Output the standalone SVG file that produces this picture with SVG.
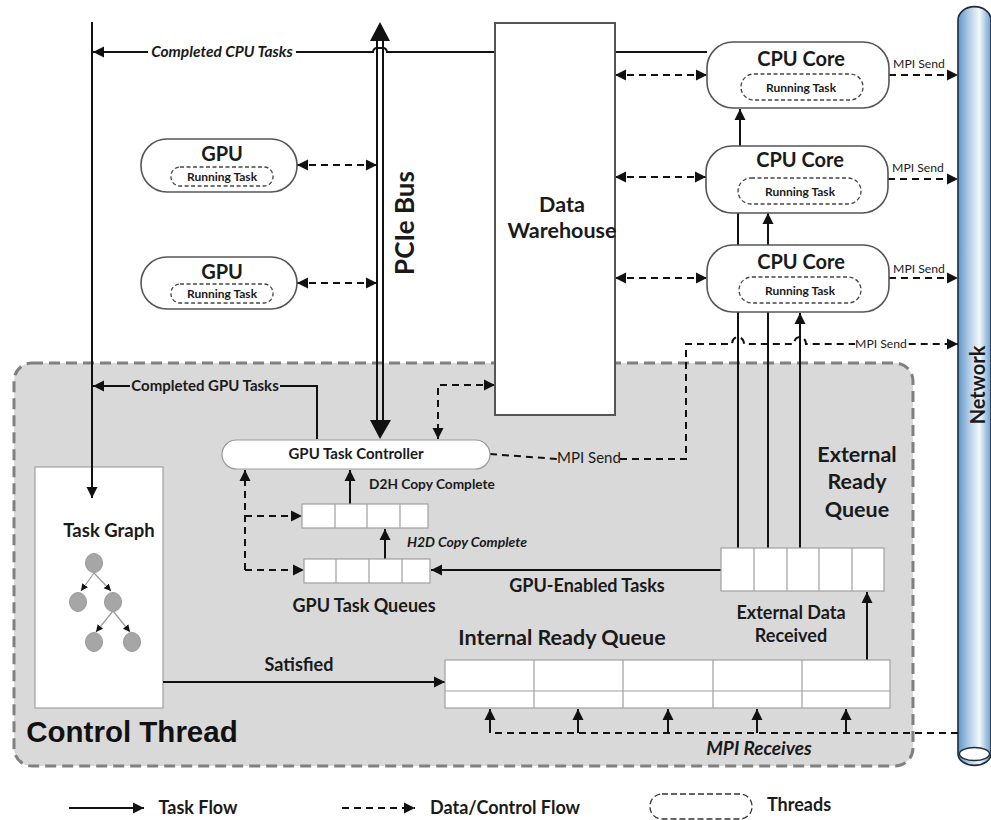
<svg xmlns="http://www.w3.org/2000/svg" width="991" height="820" viewBox="0 0 991 820">
<style>
text{font-family:Lato,"Liberation Sans",sans-serif;font-weight:700;fill:#1a1a1a;text-anchor:middle}
.l{stroke:#111;stroke-width:2;fill:none}
.d{stroke:#111;stroke-width:2;fill:none;stroke-dasharray:7 5}
.a{marker-end:url(#h)}
.b{marker-start:url(#hs);marker-end:url(#h)}
.box{fill:#fff;stroke:#555;stroke-width:1.6}
.rt{fill:none;stroke:#444;stroke-width:1.3;stroke-dasharray:4 2.5}
.q{fill:#fff;stroke:#a0a0a0;stroke-width:1.2}
.ql{stroke:#a0a0a0;stroke-width:1.2;fill:none}
.n{fill:#a6a6a6;stroke:#999;stroke-width:1}
.e{stroke:#999;stroke-width:1.2;fill:none;marker-end:url(#sm)}
.t1{font-size:20px}.t2{font-size:12px}.t4{font-size:12.2px;font-weight:400}
.t5{font-size:21.5px}.t6{font-size:18px}
.it{font-style:italic}
</style>
<defs>
<marker id="h" markerUnits="userSpaceOnUse" markerWidth="12" markerHeight="12" refX="11" refY="6" orient="auto"><path d="M0,0.5L11,6L0,11.5z" fill="#111"/></marker>
<marker id="hs" markerUnits="userSpaceOnUse" markerWidth="12" markerHeight="12" refX="1" refY="6" orient="auto"><path d="M12,0.5L1,6L12,11.5z" fill="#111"/></marker>
<marker id="sm" markerUnits="userSpaceOnUse" markerWidth="8" markerHeight="8" refX="7" refY="4" orient="auto"><path d="M0,0.5L7,4L0,7.5z" fill="#111"/></marker>
<linearGradient id="net" x1="0" x2="1" y1="0" y2="0"><stop offset="0" stop-color="#5f95c8"/><stop offset=".3" stop-color="#a9c8e4"/><stop offset=".65" stop-color="#f4f8fb"/><stop offset="1" stop-color="#6e9fcd"/></linearGradient>
</defs>

<g id="control-thread"><rect x="14" y="363" width="899" height="403" rx="18" fill="#d9d9d9" stroke="#808080" stroke-width="3" stroke-dasharray="11 6"/><text x="132" y="742" style="font-family:'Liberation Sans',sans-serif;font-size:29.500px;fill:#111">Control Thread</text></g>

<g id="network"><path d="M958,20a16,13 0 0 1 33,0V754a16,11 0 0 1 -33,0z" fill="url(#net)" stroke="#1d2b3a" stroke-width="1.600"/><ellipse cx="974.500" cy="754" rx="15" ry="6.500" fill="#fff" stroke="#1d2b3a" stroke-width="1.400"/><text transform="translate(985,385) rotate(-90)" style="font-size:20px">Network</text></g>

<g id="task-graph"><rect x="35" y="467" width="128" height="241" fill="#fff" stroke="#a0a0a0" stroke-width="1.200"/><text x="109" y="537" style="font-size:18.500px">Task Graph</text>
<path class="e" d="M94,573L81,591"/><path class="e" d="M94,573L111,591"/><path class="e" d="M113,611L96,632"/><path class="e" d="M113,611L130,632"/>
<ellipse class="n" cx="94" cy="563" rx="8.500" ry="9.500"/><ellipse class="n" cx="78" cy="602" rx="8.500" ry="9.500"/><ellipse class="n" cx="113" cy="602" rx="8.500" ry="9.500"/><ellipse class="n" cx="94" cy="642" rx="8.500" ry="9.500"/><ellipse class="n" cx="132" cy="642" rx="8.500" ry="9.500"/></g>

<g id="connectors">
<path class="l a" d="M92,22V498"/>
<path class="l a" d="M707,52H387a4,5 0 0 0 -4,-4h-6a4,5 0 0 0 -4,4H93"/>
<path d="M377,38V425M383,38V425" stroke="#111" stroke-width="2" fill="none"/>
<path d="M380,22L370,41H390zM370,420H391L380,439z" fill="#111"/>
<path class="d b" d="M297,165H377"/><path class="d b" d="M297,283H377"/>
<path class="d b" d="M615,75H707"/><path class="d b" d="M615,177H706"/><path class="d b" d="M615,278H707"/>
<path class="d a" d="M889,75H958"/><path class="d a" d="M888,179H958"/><path class="d a" d="M889,278H958"/>
<path class="d a" d="M490,454L558,459M620,459H686V344H732a6,7 0 0 1 12,0H794a6,7 0 0 1 12,0H958"/>
<path class="l a" d="M740,146V109"/>
<path class="l" d="M738,548V213"/><path class="l a" d="M768,548V213"/>
<path class="l a" d="M800,548V313"/>
<path class="l a" d="M317,439V386H93"/>
<path class="d b" d="M495,385H438V439"/>
<path class="l a" d="M350,504V470"/><path class="l a" d="M385,559V529"/>
<path class="d a" d="M245,570V470"/><path class="d a" d="M245,516H302"/><path class="d a" d="M245,570H304"/>
<path class="l a" d="M722,570H431"/>
<path class="l a" d="M867,660V592"/>
<path class="l a" d="M163,682H445"/>
<path class="d" d="M958,733H490"/>
<path class="l a" d="M490,733V709"/><path class="l a" d="M578,733V709"/><path class="l a" d="M668,733V709"/><path class="l a" d="M757,733V709"/><path class="l a" d="M846,733V709"/>
<path class="l a" d="M69,808H144"/><path class="d a" d="M342,808H415"/>
</g>

<g id="data-warehouse"><rect x="495" y="23" width="120" height="392" class="box" style="stroke-width:2"/><text class="t5" x="562" y="212">Data</text><text class="t5" x="562" y="238">Warehouse</text></g>

<g id="gpu1"><rect x="141" y="139" width="156" height="53" rx="26" class="box"/><text class="t1" x="222" y="161">GPU</text><rect x="171" y="167" width="102" height="19" rx="9" class="rt"/><text class="t2" x="222" y="181">Running Task</text></g>
<g id="gpu2"><rect x="141" y="257" width="156" height="52" rx="26" class="box"/><text class="t1" x="222" y="279">GPU</text><rect x="171" y="284" width="102" height="19" rx="9" class="rt"/><text class="t2" x="222" y="298">Running Task</text></g>

<g id="cpu1"><rect x="707" y="42" width="182" height="66" rx="26" class="box"/><text class="t1" x="801" y="66">CPU Core</text><rect x="741" y="74" width="122" height="26" rx="13" class="rt"/><text class="t2" x="801" y="92">Running Task</text></g>
<g id="cpu2"><rect x="706" y="146" width="182" height="67" rx="26" class="box"/><text class="t1" x="800" y="167">CPU Core</text><rect x="738" y="178" width="123" height="26" rx="13" class="rt"/><text class="t2" x="800" y="196">Running Task</text></g>
<g id="cpu3"><rect x="707" y="245" width="182" height="67" rx="26" class="box"/><text class="t1" x="801" y="269">CPU Core</text><rect x="739" y="277" width="122" height="26" rx="13" class="rt"/><text class="t2" x="800" y="295">Running Task</text></g>

<g id="gpu-task-controller"><rect x="222" y="440" width="268" height="29" rx="14.500" fill="#fff" stroke="#999" stroke-width="1.200"/><text x="356" y="459" style="font-size:15px">GPU Task Controller</text></g>

<g id="d2h-queue"><rect x="302" y="504" width="126" height="24" class="q"/><path class="ql" d="M335,504V528M367,504V528M400,504V528"/></g>
<g id="h2d-queue"><rect x="304" y="559" width="126" height="24" class="q"/><path class="ql" d="M336,559V583M369,559V583M402,559V583"/></g>
<g id="external-ready-queue"><rect x="721" y="548" width="163" height="43" class="q"/><path class="ql" d="M754,548V591M787,548V591M819,548V591M852,548V591"/><text class="t5" x="857" y="462">External</text><text class="t5" x="857" y="489">Ready</text><text class="t5" x="857" y="517">Queue</text></g>
<g id="internal-ready-queue"><rect x="445" y="660" width="445" height="48" class="q"/><path class="ql" d="M445,691H890M534,660V708M623,660V708M713,660V708M802,660V708"/><text x="562" y="645" style="font-size:21.500px">Internal Ready Queue</text></g>

<g id="labels">
<rect x="148" y="44" width="148" height="16" fill="#fff"/>
<text x="222" y="57" class="it" style="font-size:15.500px">Completed CPU Tasks</text>
<rect x="130" y="378" width="150" height="16" fill="#d9d9d9"/>
<text x="205" y="391" style="font-size:15px">Completed GPU Tasks</text>
<text transform="translate(414,223) rotate(-90)" style="font-size:26px">PCIe Bus</text>
<text x="432" y="489" style="font-size:13.700px">D2H  Copy Complete</text>
<text x="467" y="547" class="it" style="font-size:14px">H2D Copy Complete</text>
<text x="364" y="612" class="t6">GPU Task Queues</text>
<text x="587" y="592" class="t6">GPU-Enabled Tasks</text>
<text x="791" y="619" class="t6">External Data</text>
<text x="791" y="642" class="t6">Received</text>
<text x="299" y="671" class="t6">Satisfied</text>
<text x="759" y="755" class="it" style="font-size:19px">MPI Receives</text>
<text class="t4" x="919" y="68">MPI Send</text><text class="t4" x="918" y="172">MPI Send</text><text class="t4" x="919" y="273">MPI Send</text>
<rect x="855" y="337" width="52" height="14" fill="#fff"/><text class="t4" x="881" y="348">MPI Send</text>
<rect x="557" y="450" width="63" height="16" fill="#d9d9d9"/><text x="589" y="463" style="font-size:15px;font-weight:400">MPI Send</text>
<text x="198" y="814" class="t6">Task Flow</text>
<text x="505" y="814" class="t6">Data/Control Flow</text>
<rect x="650" y="794" width="102" height="25" rx="12" fill="none" stroke="#333" stroke-width="1.300" stroke-dasharray="6 3"/>
<text x="799" y="811" class="t6">Threads</text>
</g>
</svg>
